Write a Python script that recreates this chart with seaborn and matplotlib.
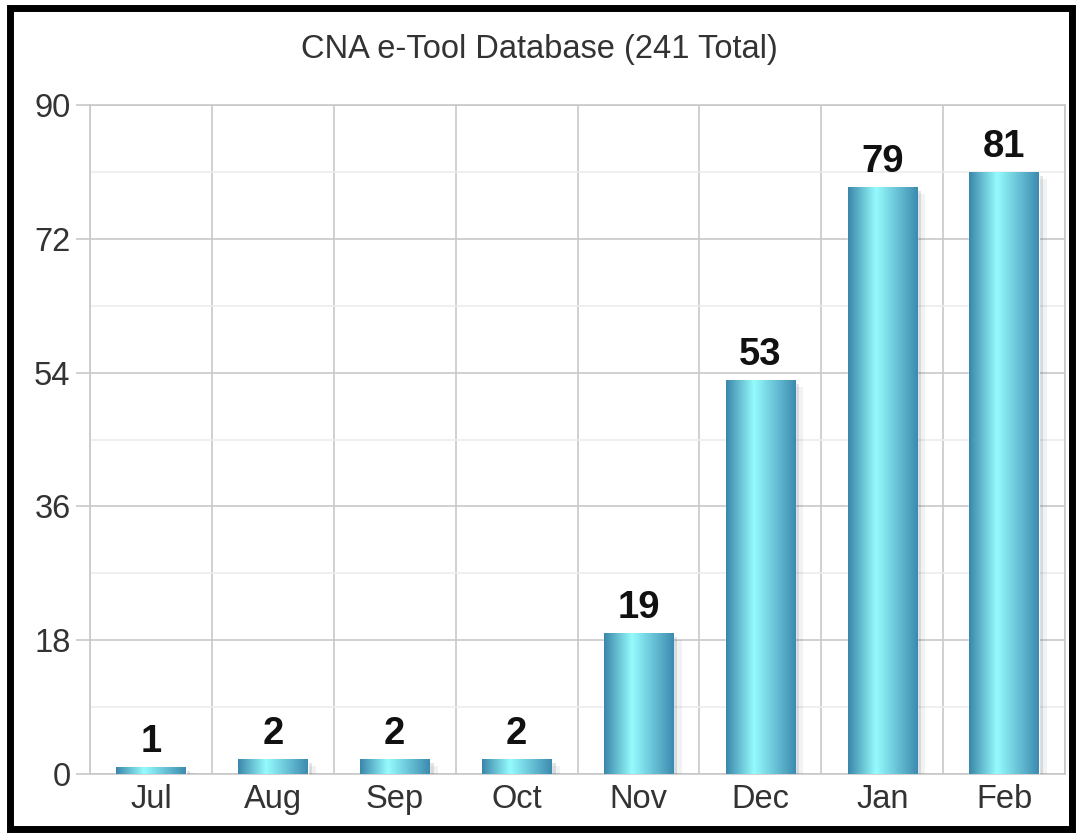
import numpy as np
import matplotlib
matplotlib.use('Agg')
import matplotlib.pyplot as plt
import seaborn as sns
from matplotlib.colors import LinearSegmentedColormap
from matplotlib.patches import Rectangle
import matplotlib.patheffects as pe

# Data
months = ['Jul', 'Aug', 'Sep', 'Oct', 'Nov', 'Dec', 'Jan', 'Feb']
counts = [1, 2, 2, 2, 19, 53, 79, 81]
title = 'CNA e-Tool Database (241 Total)'
y_ticks = [0, 18, 36, 54, 72, 90]

sns.set_style('white')
plt.rcParams['font.family'] = ['Liberation Sans', 'DejaVu Sans']

fig = plt.figure(figsize=(10.78, 8.34), dpi=100)
ax = fig.add_axes([0.0835, 0.072, 0.9045, 0.802])

sns.barplot(x=months, y=counts, color='#4aa3c2', width=0.57, ax=ax,
            saturation=1, zorder=3)

# gradient fill on each bar
grad = LinearSegmentedColormap.from_list(
    'cyl', [(0.0, '#3a86aa'), (0.4, '#95fbfd'), (1.0, '#3d8bb0')])
gimg = np.linspace(0, 1, 256).reshape(1, -1)
for p in ax.patches:
    p.set_path_effects([pe.SimplePatchShadow(offset=(3, -3), alpha=0.12, rho=0.3),
                        pe.SimplePatchShadow(offset=(6, -5), alpha=0.06, rho=0.3),
                        pe.Normal()])
    x0, y0 = p.get_x(), p.get_y()
    w, h = p.get_width(), p.get_height()
    im = ax.imshow(gimg, cmap=grad, aspect='auto', extent=[x0, x0 + w, y0, y0 + h],
                   zorder=4, interpolation='bilinear')
    im.set_clip_path(p)

ax.bar_label(ax.containers[0], labels=[str(c) for c in counts], padding=5,
             fontsize=27.5, fontweight='bold', color='#111111')

ax.set_xlim(-0.5, len(months) - 0.5)
ax.set_ylim(0, 90)
ax.set_yticks(y_ticks)
ax.set_yticks(np.arange(9, 90, 18), minor=True)
ax.set_xticks(range(len(months)))
ax.set_xticklabels(months)
ax.set_xticks(np.arange(-0.5, len(months), 1), minor=True)

ax.grid(which='major', axis='y', color='#c8c8c8', lw=1.2, zorder=0)
ax.grid(which='minor', axis='y', color='#ececec', lw=1.2, zorder=0)
ax.grid(which='minor', axis='x', color='#c8c8c8', lw=1.2, zorder=0)
ax.set_axisbelow(True)

ax.tick_params(axis='x', which='major', length=0, labelsize=23.5, labelcolor='#333333', pad=7)
ax.tick_params(axis='x', which='minor', length=11, color='#c8c8c8', width=1.2, direction='out')
ax.tick_params(axis='y', which='major', length=10, color='#c8c8c8', width=1.2,
               labelsize=23.5, labelcolor='#333333', pad=4, left=True)
ax.tick_params(axis='y', which='minor', length=0)
for s in ax.spines.values():
    s.set_color('#c8c8c8')
    s.set_linewidth(1.2)
ax.set_xlabel('')
ax.set_ylabel('')

fig.text(0.5, 0.941, title, ha='center', va='center', fontsize=23.5, color='#333333')

# black frame around the figure
fig.patches.append(Rectangle((0.0095, 0.006), 0.985, 0.984, transform=fig.transFigure,
                             fill=False, edgecolor='black', lw=5, zorder=10))

fig.savefig('out.png', dpi=100)
